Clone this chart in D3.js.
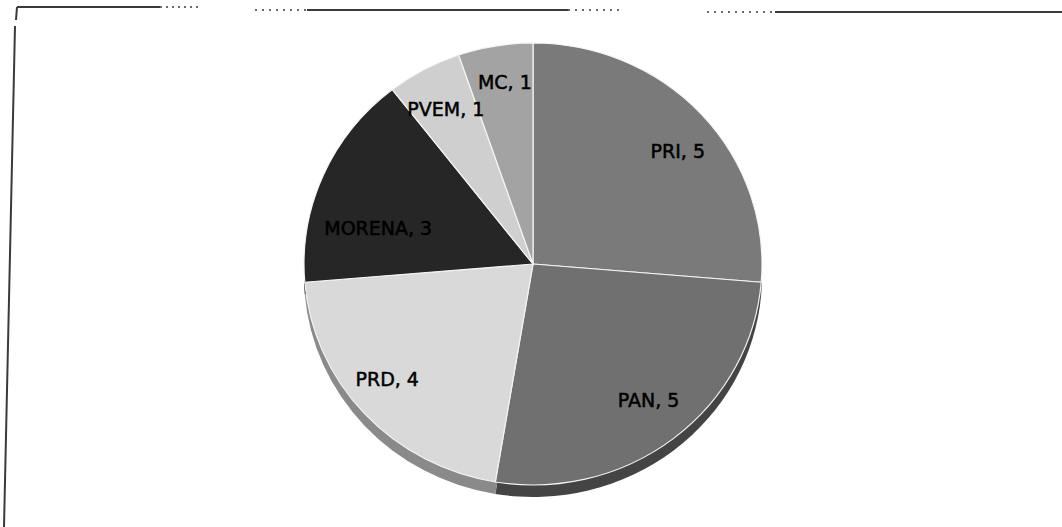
<!DOCTYPE html>
<html>
<head>
<meta charset="utf-8">
<script src="https://cdn.jsdelivr.net/npm/d3@7"></script>
<style>
  html, body { margin: 0; padding: 0; background: #fff; }
  svg { display: block; }
</style>
</head>
<body>
<svg id="chart" width="1062" height="527"></svg>
<script>
// Data
const categories = ["PRI", "PAN", "PRD", "MORENA", "PVEM", "MC"];
const seats = [5, 5, 4, 3, 1, 1];
const topColors = ["#7a7a7a", "#707070", "#d9d9d9", "#262626", "#cfcfcf", "#a3a3a3"];
const sideColors = ["#4a4a4a", "#444444", "#8a8a8a", "#111111", "#8a8a8a", "#606060"];
// Small nudges of the data labels (px), as placed in the reference
const labelNudge = [[10, 7], [3, -4], [-11, -5], [13, 35], [0, 0], [2, -8]];

(function () {
const svg = d3.select("#chart");

// Frame (partial border as in the scanned reference)
const frame = svg.append("g").attr("stroke", "#3a3a3a").attr("stroke-width", 2).attr("fill", "none");
frame.append("path").attr("d", "M17,7 L160,7");
frame.append("path").attr("d", "M160,7 L200,7").attr("stroke-dasharray", "2,4").attr("stroke-width", 1.5);
frame.append("path").attr("d", "M255,10 L307,10").attr("stroke-dasharray", "2,5").attr("stroke-width", 1.5);
frame.append("path").attr("d", "M307,10 L568,10");
frame.append("path").attr("d", "M568,10 L620,10").attr("stroke-dasharray", "2,5").attr("stroke-width", 1.5);
frame.append("path").attr("d", "M707,12 L775,12").attr("stroke-dasharray", "2,5").attr("stroke-width", 1.5);
frame.append("path").attr("d", "M775,12 L1062,12");
frame.append("path").attr("d", "M17,7 L16,20 M15,26 L4,527");

// Pie geometry
const cx = 533, cy = 264, r = 229, yScale = 0.965, depth = 12;

const pie = d3.pie().sort(null).value(d => d.v);
const arcs = pie(categories.map((c, i) => ({ c, v: seats[i], i })));
const arc = d3.arc().innerRadius(0).outerRadius(r);
const labelArc = d3.arc().innerRadius(r * 0.8).outerRadius(r * 0.8);

// Side (extruded depth)
const sideG = svg.append("g").attr("transform", `translate(${cx},${cy + depth}) scale(1,${yScale})`);
sideG.selectAll("path").data(arcs).join("path")
  .attr("d", arc)
  .attr("fill", d => sideColors[d.data.i]);

// Top face
const faceG = svg.append("g").attr("transform", `translate(${cx},${cy}) scale(1,${yScale})`);
faceG.selectAll("path").data(arcs).join("path")
  .attr("d", arc)
  .attr("fill", d => topColors[d.data.i])
  .attr("stroke", "#f4f4f4")
  .attr("stroke-width", 1.2)
  .attr("stroke-linejoin", "round");

// Labels
svg.append("g").selectAll("text").data(arcs).join("text")
  .attr("x", d => cx + labelArc.centroid(d)[0] + labelNudge[d.data.i][0])
  .attr("y", d => cy + labelArc.centroid(d)[1] * yScale + labelNudge[d.data.i][1])
  .attr("text-anchor", "middle")
  .attr("dominant-baseline", "central")
  .attr("font-family", "DejaVu Sans, sans-serif")
  .attr("font-size", 19)
  .attr("fill", "#000")
  .attr("stroke", "#000")
  .attr("stroke-width", 0.5)
  .text(d => `${d.data.c}, ${d.data.v}`);
})();
</script>
</body>
</html>
